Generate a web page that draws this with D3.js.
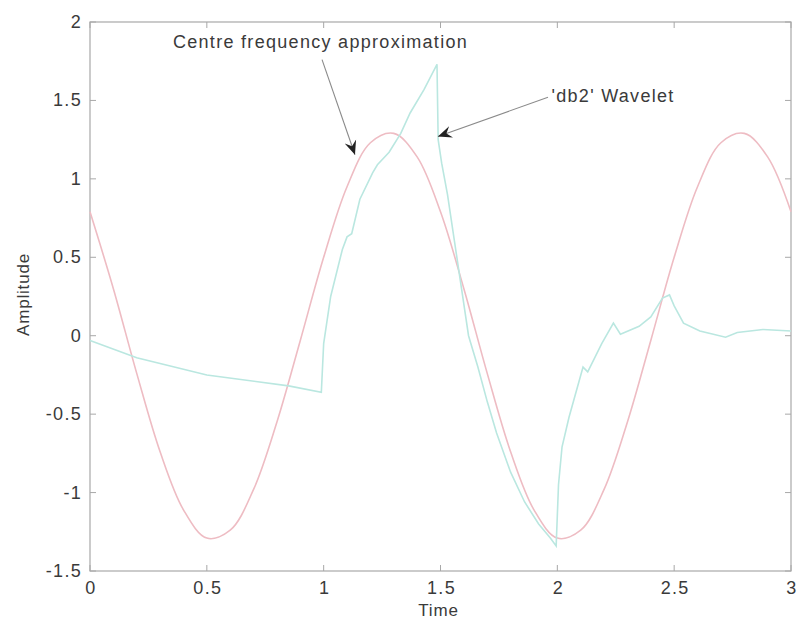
<!DOCTYPE html>
<html>
<head>
<meta charset="utf-8">
<script src="https://cdn.jsdelivr.net/npm/d3@7"></script>
<style>
  body { margin: 0; background: #fff; }
  text { font-family: "Liberation Sans", Arial, sans-serif; fill: #3a3a3a; }
</style>
</head>
<body>
<div id="chart"></div>
<script>
// centre frequency approximation, read off every 0.1 s
var sineX = [0, 0.1, 0.2, 0.3, 0.4, 0.5, 0.6, 0.7, 0.8, 0.9, 1.0, 1.1, 1.2, 1.3, 1.4,
	1.5, 1.6, 1.7, 1.8, 1.9, 2.0, 2.1, 2.2, 2.3, 2.4, 2.5, 2.6, 2.7, 2.8, 2.9, 3.0];
var sineY = [0.79, 0.30, -0.24, -0.74, -1.11, -1.29, -1.24, -0.98, -0.55, -0.03, 0.50, 0.95, 1.23, 1.29, 1.14,
	0.79, 0.30, -0.24, -0.74, -1.11, -1.29, -1.24, -0.98, -0.55, -0.03, 0.50, 0.95, 1.23, 1.29, 1.14, 0.79];

// 'db2' wavelet trace
var waveX = [0, 0.2, 0.5, 0.85, 0.99, 1.0, 1.03, 1.08, 1.10, 1.12, 1.155, 1.21, 1.23, 1.28, 1.33, 1.37, 1.43, 1.485,
	1.49, 1.505, 1.53, 1.56, 1.59, 1.62, 1.66, 1.70, 1.74, 1.80, 1.86, 1.92, 1.97, 1.995,
	2.005, 2.02, 2.05, 2.11, 2.13, 2.19, 2.24, 2.27, 2.35, 2.40, 2.45, 2.48, 2.50, 2.54, 2.61, 2.72, 2.77, 2.88, 3.0];
var waveY = [-0.03, -0.14, -0.25, -0.32, -0.36, -0.05, 0.25, 0.55, 0.63, 0.65, 0.87, 1.04, 1.09, 1.17, 1.29, 1.42, 1.57, 1.73,
	1.25, 1.1, 0.9, 0.6, 0.3, 0.0, -0.2, -0.42, -0.62, -0.87, -1.06, -1.2, -1.29, -1.34,
	-0.95, -0.71, -0.52, -0.20, -0.23, -0.05, 0.08, 0.01, 0.06, 0.12, 0.24, 0.26, 0.19, 0.08, 0.03, -0.01, 0.02, 0.04, 0.03];

var xTicks = [0, 0.5, 1, 1.5, 2, 2.5, 3];
var yTicks = [-1.5, -1, -0.5, 0, 0.5, 1, 1.5, 2];

// annotations: label, text anchor point, arrow start, arrow tip (data units)
var noteLabels = ["Centre frequency approximation", "'db2' Wavelet"];
var noteText = [[0.355, 1.87], [1.975, 1.53]];
var noteFrom = [[0.993, 1.76], [1.96, 1.52]];
var noteTo = [[1.134, 1.154], [1.489, 1.27]];

var W = 798, H = 626;
var margin = {top: 22, right: 7, bottom: 55, left: 90};

var svg = d3.select('#chart').append('svg')
	.attr('width', W)
	.attr('height', H);

var x = d3.scaleLinear().domain([0, 3]).range([margin.left, W - margin.right]);
var y = d3.scaleLinear().domain([-1.5, 2]).range([H - margin.bottom, margin.top]);

var axisCol = '#a8a8a8';

// box
svg.append('rect')
	.attr('x', x(0)).attr('y', y(2))
	.attr('width', x(3) - x(0)).attr('height', y(-1.5) - y(2))
	.attr('fill', 'none').attr('stroke', axisCol).attr('stroke-width', 1.2);

// inward ticks on all four sides
var tickG = svg.append('g').attr('stroke', axisCol).attr('stroke-width', 1);
xTicks.forEach(function (t) {
	tickG.append('line').attr('x1', x(t)).attr('x2', x(t)).attr('y1', y(-1.5)).attr('y2', y(-1.5) - 6);
	tickG.append('line').attr('x1', x(t)).attr('x2', x(t)).attr('y1', y(2)).attr('y2', y(2) + 6);
});
yTicks.forEach(function (t) {
	tickG.append('line').attr('y1', y(t)).attr('y2', y(t)).attr('x1', x(0)).attr('x2', x(0) + 6);
	tickG.append('line').attr('y1', y(t)).attr('y2', y(t)).attr('x1', x(3)).attr('x2', x(3) - 6);
});

var fmt = function (d) { return String(d); };

svg.append('g').selectAll('text').data(xTicks).enter().append('text')
	.attr('x', function (d) { return x(d) + 1; })
	.attr('y', y(-1.5) + 23)
	.attr('text-anchor', 'middle')
	.style('font-size', '18px').style('letter-spacing', '1.3px')
	.text(fmt);

svg.append('g').selectAll('text').data(yTicks).enter().append('text')
	.attr('x', x(0) - 8)
	.attr('y', function (d) { return y(d) + 6; })
	.attr('text-anchor', 'end')
	.style('font-size', '18px').style('letter-spacing', '1.3px')
	.text(fmt);

svg.append('text')
	.attr('x', (x(0) + x(3)) / 2 - 2)
	.attr('y', 616)
	.attr('text-anchor', 'middle')
	.style('font-size', '17px').style('letter-spacing', '0.8px')
	.text('Time');

svg.append('text')
	.attr('transform', 'translate(29,' + (y(0.25) - 2) + ') rotate(-90)')
	.attr('text-anchor', 'middle')
	.style('font-size', '17px').style('letter-spacing', '0.8px')
	.text('Amplitude');

// curves
var line = d3.line()
	.x(function (d) { return x(d[0]); })
	.y(function (d) { return y(d[1]); });

svg.append('path')
	.attr('d', line.curve(d3.curveCatmullRom)(d3.zip(sineX, sineY)))
	.attr('fill', 'none')
	.attr('stroke', '#eebcc3')
	.attr('stroke-width', 1.6);

svg.append('path')
	.attr('d', line.curve(d3.curveLinear)(d3.zip(waveX, waveY)))
	.attr('fill', 'none')
	.attr('stroke', '#bae7e0')
	.attr('stroke-width', 1.6);

// arrowhead
svg.append('defs').append('marker')
	.attr('id', 'head')
	.attr('viewBox', '-14 -7 16 14')
	.attr('refX', 0).attr('refY', 0)
	.attr('markerWidth', 16).attr('markerHeight', 14)
	.attr('markerUnits', 'userSpaceOnUse')
	.attr('orient', 'auto')
	.append('path')
	.attr('d', 'M0,0 L-14,-6 L-9,0 L-14,6 Z')
	.attr('fill', '#222');

noteLabels.forEach(function (lab, i) {
	svg.append('line')
		.attr('x1', x(noteFrom[i][0])).attr('y1', y(noteFrom[i][1]))
		.attr('x2', x(noteTo[i][0])).attr('y2', y(noteTo[i][1]))
		.attr('stroke', '#8a8a8a').attr('stroke-width', 1.1)
		.attr('marker-end', 'url(#head)');
	svg.append('text')
		.attr('x', x(noteText[i][0]))
		.attr('y', y(noteText[i][1]) + 6)
		.style('font-size', '18px').style('letter-spacing', '1.3px')
		.text(lab);
});
</script>
</body>
</html>
